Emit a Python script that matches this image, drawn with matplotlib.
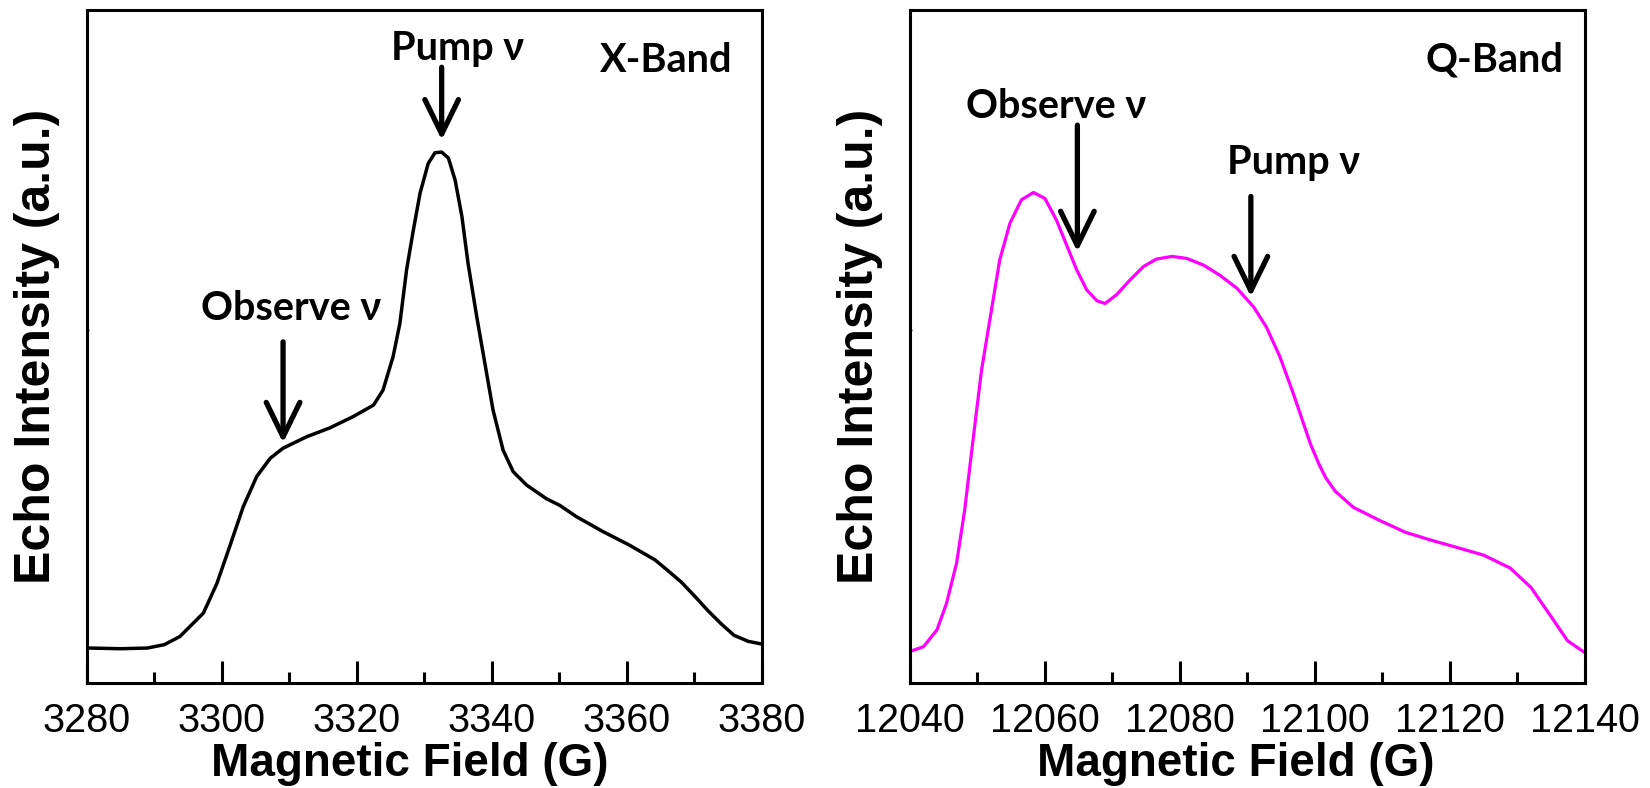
import matplotlib.pyplot as plt

# ── Data ──────────────────────────────────────────────────────
x_band_field = [3280.4, 3285.0, 3289.0, 3291.5, 3293.8, 3297.3, 3299.3, 3301.2,
                3303.2, 3305.2, 3307.2, 3309.1, 3312.6, 3316.0, 3319.5, 3322.5,
                3323.9, 3325.4, 3326.4, 3327.4, 3328.4, 3329.4, 3330.6, 3331.6,
                3332.6, 3333.6, 3334.6, 3335.6, 3336.5, 3337.8, 3339.0, 3340.2,
                3341.7, 3343.2, 3345.2, 3348.1, 3350.1, 3352.6, 3356.5, 3360.4,
                3364.2, 3366.0, 3368.1, 3370.0, 3372.0, 3374.0, 3375.9, 3378.0,
                3380.0]
x_band_echo = [0.052, 0.051, 0.052, 0.057, 0.069, 0.104, 0.148, 0.203,
               0.262, 0.307, 0.334, 0.349, 0.366, 0.379, 0.396, 0.413,
               0.435, 0.485, 0.534, 0.614, 0.673, 0.728, 0.772, 0.788,
               0.789, 0.780, 0.747, 0.693, 0.624, 0.544, 0.475, 0.406,
               0.346, 0.314, 0.294, 0.274, 0.264, 0.247, 0.225, 0.205,
               0.183, 0.168, 0.150, 0.130, 0.108, 0.088, 0.071, 0.062,
               0.058]

q_band_field = [12040.0, 12042.0, 12044.0, 12045.4, 12046.9, 12048.1, 12049.4,
                12050.6, 12051.9, 12053.3, 12054.8, 12056.5, 12058.3, 12060.0,
                12061.7, 12063.2, 12064.7, 12066.2, 12067.7, 12068.9, 12070.6,
                12072.6, 12074.6, 12076.5, 12078.8, 12081.0, 12083.5, 12085.9,
                12088.4, 12090.9, 12092.8, 12094.8, 12096.8, 12099.3, 12100.6,
                12101.6, 12103.0, 12105.7, 12109.5, 12113.4, 12117.3, 12121.2,
                12125.0, 12128.9, 12132.0, 12135.1, 12137.4, 12140.0]
q_band_echo = [0.047, 0.054, 0.079, 0.118, 0.178, 0.257, 0.366,
               0.465, 0.544, 0.629, 0.683, 0.718, 0.729, 0.720,
               0.688, 0.651, 0.614, 0.584, 0.568, 0.564, 0.577,
               0.599, 0.619, 0.630, 0.634, 0.631, 0.621, 0.606,
               0.587, 0.559, 0.529, 0.485, 0.430, 0.356, 0.325,
               0.305, 0.285, 0.261, 0.242, 0.224, 0.212, 0.201,
               0.190, 0.171, 0.142, 0.097, 0.063, 0.045]

# arrows: (field, tail y, tip y), labels: (text, field, baseline y)
x_arrows = [(3332.6, 0.915, 0.807), (3309.1, 0.507, 0.357)]
x_labels = [("Pump ν", 3334.9, 0.926), ("Observe ν", 3310.3, 0.539)]
q_arrows = [(12064.8, 0.829, 0.641), (12090.5, 0.723, 0.574)]
q_labels = [("Observe ν", 12061.7, 0.840), ("Pump ν", 12096.8, 0.756)]

ann_font = dict(family=["Lato", "DejaVu Sans"], fontweight="bold", fontsize=28.5)

fig = plt.figure(figsize=(16.5, 7.88), dpi=100)
ax1 = fig.add_axes([0.0525, 0.1332, 0.4091, 0.854])
ax2 = fig.add_axes([0.5515, 0.1332, 0.4091, 0.854])


def style_axes(ax, xmin, xmax):
    ax.set_xlim(xmin, xmax)
    ax.set_ylim(0, 1)
    ax.set_xticks(range(xmin, xmax + 1, 20))
    ax.set_xticks(range(xmin + 10, xmax, 20), minor=True)
    ax.set_yticks([0.524])
    ax.set_yticklabels([])
    ax.tick_params(axis="x", which="major", direction="in", length=16, width=2.2,
                   pad=14, labelsize=28.5)
    ax.tick_params(axis="x", which="minor", direction="in", length=8, width=2.2)
    ax.tick_params(axis="y", direction="in", length=1.5, width=1)
    for lbl in ax.get_xticklabels():
        lbl.set_family("Liberation Sans")
    for s in ax.spines.values():
        s.set_linewidth(2.2)
    ax.set_xlabel("Magnetic Field (G)", fontsize=33, fontweight="bold",
                  family="Liberation Sans")
    ax.set_ylabel("Echo Intensity (a.u.)", fontsize=36, fontweight="bold",
                  family="Liberation Sans")


def add_arrows(ax, arrows, labels):
    for xa, y0, y1 in arrows:
        ax.annotate("", xy=(xa, y1), xytext=(xa, y0),
                    arrowprops=dict(arrowstyle="->, head_length=0.45, head_width=0.22",
                                    lw=3.8, color="black", mutation_scale=55,
                                    shrinkA=0, shrinkB=0))
    for txt, xt, yt in labels:
        ax.text(xt, yt, txt, ha="center", va="baseline", **ann_font)


# ── X-band ─────────────────────────────────────────────────────
ax1.plot(x_band_field, x_band_echo, color="black", lw=2.5)
style_axes(ax1, 3280, 3380)
add_arrows(ax1, x_arrows, x_labels)
ax1.text(0.957, 0.908, "X-Band", transform=ax1.transAxes, ha="right",
         va="baseline", **ann_font)

# ── Q-band ─────────────────────────────────────────────────────
ax2.plot(q_band_field, q_band_echo, color="#FF00FF", lw=2.3)
style_axes(ax2, 12040, 12140)
add_arrows(ax2, q_arrows, q_labels)
ax2.text(0.968, 0.908, "Q-Band", transform=ax2.transAxes, ha="right",
         va="baseline", **ann_font)

# labels: baseline kept just above the bottom edge so descenders fit
ax1.xaxis.set_label_coords(0.479, -0.0875)
ax2.xaxis.set_label_coords(0.482, -0.0875)
ax1.yaxis.set_label_coords(-0.04, 0.5)
ax2.yaxis.set_label_coords(-0.04, 0.5)

fig.savefig("out.png", dpi=100)
